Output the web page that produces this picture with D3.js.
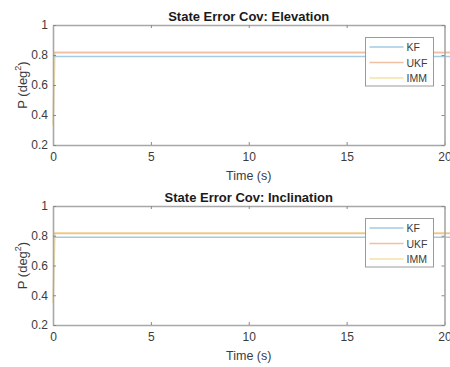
<!DOCTYPE html>
<html>
<head>
<meta charset="utf-8">
<script src="https://cdn.jsdelivr.net/npm/d3@7/dist/d3.min.js"></script>
<style>
  html, body { margin: 0; padding: 0; background: #fff; }
  svg { display: block; }
</style>
</head>
<body>
<svg id="chart" width="450" height="367"></svg>
<script>
// Covariance traces for the three filters (breakpoints of each series)
const time = [0, 0.1, 20.6];
const kfElevation = [0.79, 0.79, 0.79];
const ukfElevation = [0.815, 0.815, 0.815];
const immElevation = [0.33, 0.82, 0.82];
const kfInclination = [0.79, 0.79, 0.79];
const ukfInclination = [0.815, 0.815, 0.815];
const immInclination = [0.35, 0.82, 0.82];

const seriesNames = ["KF", "UKF", "IMM"];
const xTicks = [0, 5, 10, 15, 20];
const yTicks = [0.2, 0.4, 0.6, 0.8, 1];
const panelTitles = ["State Error Cov: Elevation", "State Error Cov: Inclination"];

const colors = { KF: "#a4cbe4", UKF: "#f1bfa2", IMM: "#f4e2a6" };
const font = "'Liberation Sans', Arial, Helvetica, sans-serif";

const svg = d3.select("#chart");

const panels = [
  { title: panelTitles[0], top: 25, bottom: 145,
    series: { KF: kfElevation, UKF: ukfElevation, IMM: immElevation } },
  { title: panelTitles[1], top: 206, bottom: 325,
    series: { KF: kfInclination, UKF: ukfInclination, IMM: immInclination } }
];

const left = 53, right = 444.5;
const axisColor = "#a8a8a8";

panels.forEach(p => {
  const x = d3.scaleLinear().domain([0, 20]).range([left, right]);
  const y = d3.scaleLinear().domain([0.2, 1]).range([p.bottom, p.top]);
  const g = svg.append("g");

  // plot area
  g.append("rect").attr("x", left).attr("y", p.top)
    .attr("width", right - left).attr("height", p.bottom - p.top)
    .attr("fill", "#fff");

  // data lines (drawn unclipped, like the source figure)
  const line = d3.line().x((d, i) => x(time[i])).y(d => y(d));
  ["IMM", "KF", "UKF"].forEach(name => {
    g.append("path").datum(p.series[name])
      .attr("d", line)
      .attr("fill", "none")
      .attr("stroke", colors[name])
      .attr("stroke-width", 1.7);
  });

  // axes: ticks pointing inward on all four sides
  const tickLen = 3;
  const xb = g.append("g").attr("transform", `translate(0,${p.bottom})`)
    .call(d3.axisBottom(x).tickValues(xTicks).tickSizeInner(-tickLen).tickSizeOuter(0).tickPadding(7).tickFormat(d3.format("d")));
  const xt = g.append("g").attr("transform", `translate(0,${p.top})`)
    .call(d3.axisTop(x).tickValues(xTicks).tickSizeInner(-tickLen).tickSizeOuter(0).tickFormat(""));
  const yl = g.append("g").attr("transform", `translate(${left},0)`)
    .call(d3.axisLeft(y).tickValues(yTicks).tickSizeInner(-tickLen).tickSizeOuter(0).tickPadding(5).tickFormat(d => d === 1 ? "1" : d3.format(".1f")(d)));
  const yr = g.append("g").attr("transform", `translate(${right},0)`)
    .call(d3.axisRight(y).tickValues(yTicks).tickSizeInner(-tickLen).tickSizeOuter(0).tickFormat(""));

  [xb, xt, yl, yr].forEach(a => {
    a.select(".domain").attr("stroke", axisColor).attr("stroke-width", 1.6);
    a.selectAll(".tick line").attr("stroke", "#8a8a8a").attr("stroke-width", 1);
    a.selectAll("text").attr("fill", "#3c3c3c").style("font-family", font).style("font-size", "12px");
  });

  // title
  g.append("text").attr("x", (left + right) / 2).attr("y", p.top - 4)
    .attr("text-anchor", "middle")
    .style("font-family", font).style("font-size", "13px").style("font-weight", "bold")
    .attr("fill", "#1a1a1a").text(p.title);

  // x label
  g.append("text").attr("x", (left + right) / 2).attr("y", p.bottom + 35)
    .attr("text-anchor", "middle")
    .style("font-family", font).style("font-size", "12.5px")
    .attr("fill", "#3c3c3c").text("Time (s)");

  // y label with superscript
  const yc = (p.top + p.bottom) / 2;
  const yt = g.append("text")
    .attr("transform", `translate(27,${yc}) rotate(-90)`)
    .attr("text-anchor", "middle")
    .style("font-family", font).style("font-size", "13px")
    .attr("fill", "#3c3c3c");
  yt.append("tspan").text("P (deg");
  yt.append("tspan").attr("dy", -6).style("font-size", "9px").text("2");
  yt.append("tspan").attr("dy", 6).text(")");

  // legend
  const lx = 365.5, ly = p.top + 12.5, lw = 68, lh = 48.5;
  const lg = g.append("g");
  lg.append("rect").attr("x", lx).attr("y", ly).attr("width", lw).attr("height", lh)
    .attr("fill", "#fff").attr("stroke", "#9a9a9a").attr("stroke-width", 1);
  seriesNames.forEach((name, i) => {
    const cy = ly + 9.5 + i * 15.5;
    lg.append("line").attr("x1", lx + 4).attr("x2", lx + 38)
      .attr("y1", cy).attr("y2", cy)
      .attr("stroke", colors[name]).attr("stroke-width", 1.4);
    lg.append("text").attr("x", lx + 41).attr("y", cy + 4)
      .style("font-family", font).style("font-size", "10.5px")
      .attr("fill", "#3c3c3c").text(name);
  });
});
</script>
</body>
</html>
